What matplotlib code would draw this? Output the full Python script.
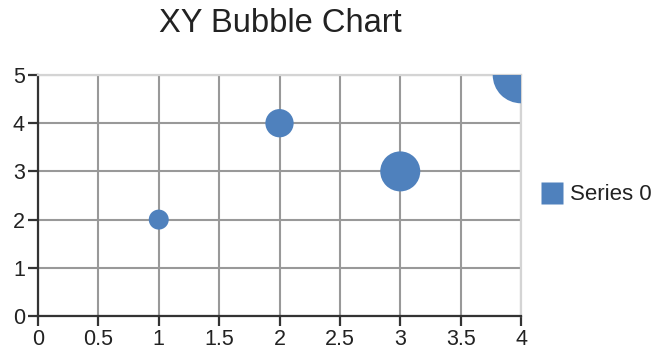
import matplotlib
matplotlib.use("Agg")
import matplotlib.pyplot as plt
import numpy as np
from matplotlib.lines import Line2D

plt.rcParams["font.family"] = ["Liberation Sans", "DejaVu Sans"]

# Bubble data: x, y and relative bubble size
x_vals = [1, 2, 3, 4]
y_vals = [2, 4, 3, 5]
sizes = [1, 2, 4, 8]
series_name = "Series 0"

x_ticks = [0, 0.5, 1, 1.5, 2, 2.5, 3, 3.5, 4]
x_tick_labels = ["0", "0.5", "1", "1.5", "2", "2.5", "3", "3.5", "4"]
y_ticks = [0, 1, 2, 3, 4, 5]

BLUE = "#4f81bd"
TEXT = "#222222"

fig = plt.figure(figsize=(6.58, 3.56), dpi=100)
ax = fig.add_axes([38 / 658, 40 / 356, 483 / 658, 241 / 356])

# area proportional to size value; radius of a unit bubble ~10 px
base_r_pt = 10 * 72 / 100
s = [(2 * base_r_pt) ** 2 * v for v in sizes]
ax.scatter(x_vals, y_vals, s=s, color=BLUE, edgecolors="none", zorder=3)

ax.set_xlim(0, 4)
ax.set_ylim(0, 5)
ax.set_xticks(x_ticks)
ax.set_xticklabels(x_tick_labels)
ax.set_yticks(y_ticks)
ax.grid(True, color="#999999", linewidth=1.5, zorder=1)
ax.set_axisbelow(True)

for side in ("left", "bottom"):
    ax.spines[side].set_color("#333333")
    ax.spines[side].set_linewidth(1.6)
for side in ("top", "right"):
    ax.spines[side].set_color("#d4d4d4")
    ax.spines[side].set_linewidth(1.6)

ax.tick_params(axis="both", direction="out", length=7.5, width=1.6,
               color="#333333", labelsize=15.5, labelcolor=TEXT, pad=2)

fig.text(280 / 658, 1 - 23 / 356, "XY Bubble Chart", ha="center", va="center",
         fontsize=23.5, color=TEXT)

handle = Line2D([], [], marker="s", linestyle="none", markersize=15.5,
                markerfacecolor=BLUE, markeredgecolor="none")
fig.legend([handle], [series_name], loc="center left",
           bbox_to_anchor=(523 / 658, 1 - 195 / 356), frameon=False,
           fontsize=16, handletextpad=0.2, handlelength=1.2,
           borderpad=0.2, labelcolor=TEXT)

fig.savefig("out.png", dpi=100)
